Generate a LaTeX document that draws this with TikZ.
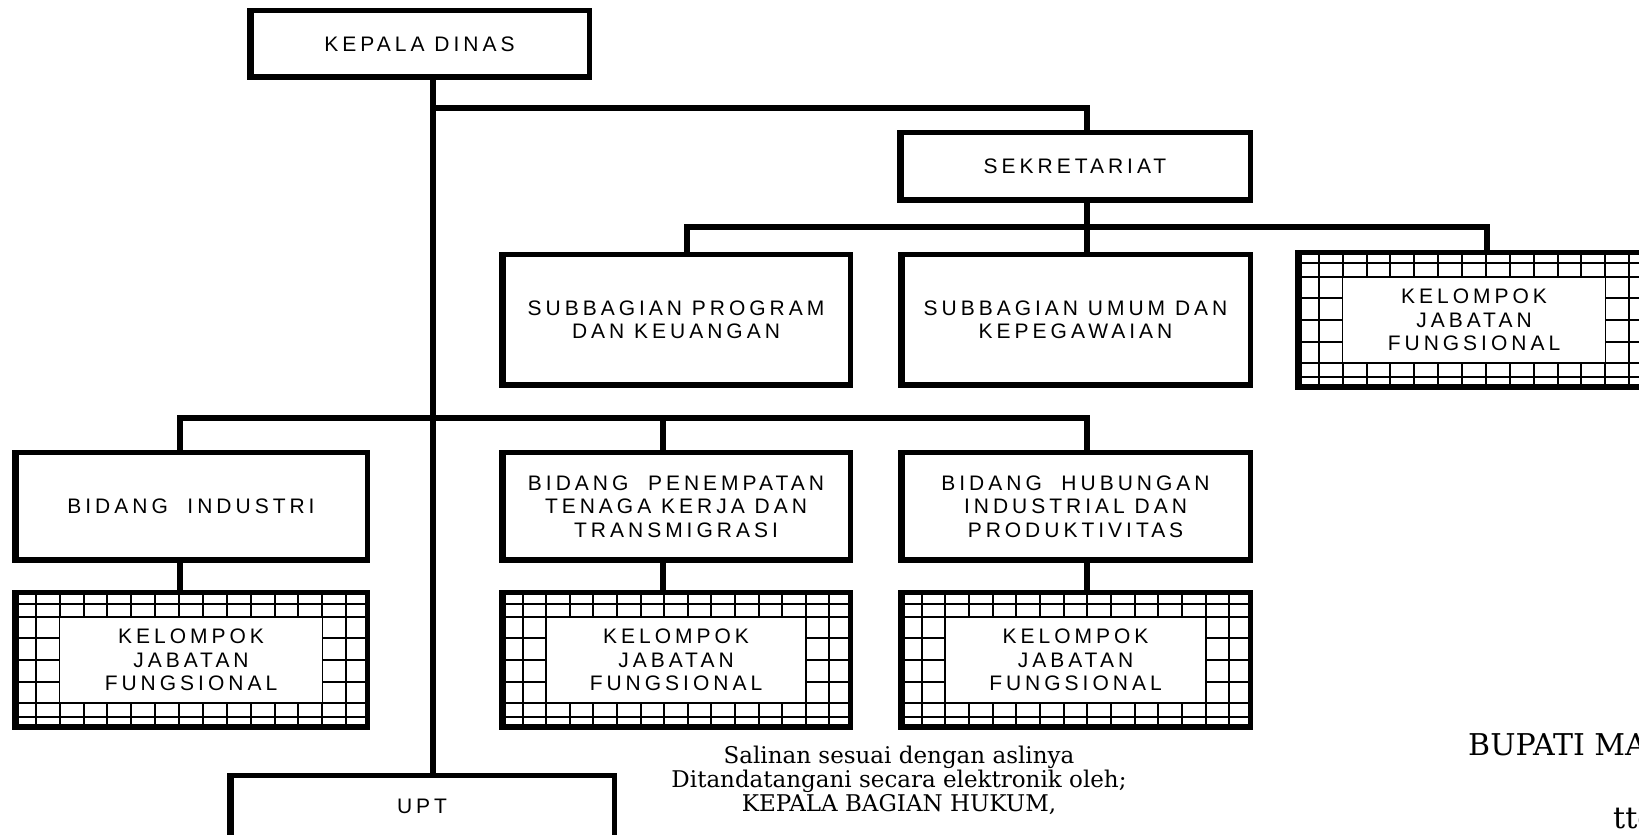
\documentclass[tikz,border=0pt]{standalone}
\usepackage{fontspec}
\newfontfamily\lab[LetterSpace=19]{Liberation Sans}
\newfontfamily\ser{DejaVu Serif}
\newcommand{\kgrid}[4]{%
\begin{scope}[shift={(#1,#2)}]
\foreach \i in {1,...,14} \draw[gridline] ({\i*#3/15},0) -- ({\i*#3/15},#4);
\foreach \j in {0.0964,0.193,0.346,0.5,0.654,0.807,0.904} \draw[gridline] (0,{\j*#4}) -- (#3,{\j*#4});
\draw[gridline, line width=1.2, fill=white] ({2*#3/15},{0.193*#4}) rectangle ({13*#3/15},{0.807*#4});
\end{scope}}
\begin{document}
\begin{tikzpicture}[x=1pt,y=-1pt,
  box/.style={draw, line width=5, fill=white, inner sep=0, outer sep=0, align=center,
    font=\lab\fontsize{21}{23.5}\selectfont},
  kbox/.style={draw, line width=5, inner sep=0, outer sep=0, align=center,
    minimum height=135pt, font=\lab\fontsize{21}{23.5}\selectfont},
  conn/.style={line width=5.5},
  gridline/.style={line width=2},
  shade/.style={line width=2},
  sertext/.style={inner sep=0, anchor=base, font=\ser\fontsize{23}{26}\selectfont},
  bigtext/.style={inner sep=0, anchor=base west, font=\ser\fontsize{30}{34}\selectfont}]
\useasboundingbox (0,0) rectangle (1639,835);
\fill[white] (0,0) rectangle (1639,835);
\clip (0,0) rectangle (1639,835);

% grids of the KELOMPOK JABATAN FUNGSIONAL boxes
\kgrid{12}{590}{358}{140}
\kgrid{499}{590}{354}{140}
\kgrid{898}{590}{355}{140}
\kgrid{1295}{250}{358}{140}

% boxes
\node[box, minimum width=340pt, minimum height=67pt] (kd) at (419.5,44) {KEPALA DINAS};
\node[box, minimum width=351pt, minimum height=68pt] (sek) at (1075,166.5) {SEKRETARIAT};
\node[box, minimum width=349pt, minimum height=131pt] (sp) at (676,320) {SUBBAGIAN PROGRAM\\DAN KEUANGAN};
\node[box, minimum width=350pt, minimum height=131pt] (su) at (1075.5,320) {SUBBAGIAN UMUM DAN\\KEPEGAWAIAN};
\node[box, minimum width=353pt, minimum height=108pt] (bi) at (191,506.5) {BIDANG\ \ INDUSTRI};
\node[box, minimum width=349pt, minimum height=108pt] (bp) at (676,506.5) {BIDANG\ \ PENEMPATAN\\TENAGA KERJA DAN\\TRANSMIGRASI};
\node[box, minimum width=350pt, minimum height=108pt] (bh) at (1075.5,506.5) {BIDANG\ \ HUBUNGAN\\INDUSTRIAL DAN\\PRODUKTIVITAS};
\node[kbox, minimum width=353pt] (kA) at (191,660) {KELOMPOK\\JABATAN\\FUNGSIONAL};
\node[kbox, minimum width=349pt] (kB) at (676,660) {KELOMPOK\\JABATAN\\FUNGSIONAL};
\node[kbox, minimum width=350pt] (kC) at (1075.5,660) {KELOMPOK\\JABATAN\\FUNGSIONAL};
\node[kbox, minimum width=353pt] (kD) at (1474,320) {KELOMPOK\\JABATAN\\FUNGSIONAL};
\node[box, minimum width=385pt, minimum height=82pt] (upt) at (422,816.5) {};
\node[inner sep=0, font=\lab\fontsize{21}{23.5}\selectfont] (uptt) at (422,806) {UPT};

% slightly heavier left and bottom edges
\foreach \n in {kd,sek,sp,su,bi,bp,bh,kA,kB,kC,kD,upt} {
  \draw[shade] ([xshift=3pt]\n.north west) -- ([xshift=3pt]\n.south west);
  \draw[shade] ([yshift=3pt]\n.south west) -- ([yshift=3pt]\n.south east);
}

% junctions
\coordinate (jt) at (433,108);
\coordinate (js) at (1087,108);
\coordinate (h2l) at (687,227);
\coordinate (h2m) at (1087,227);
\coordinate (h2r) at (1487,227);
\coordinate (h3l) at (180,418);
\coordinate (h3m) at (663,418);
\coordinate (h3r) at (1087,418);

% connectors
\draw[conn] (kd.south -| jt) -- (upt.north -| jt);
\draw[conn] (jt) -- (js) -- (js |- sek.north);
\draw[conn] (sek.south -| h2m) -- (h2m);
\draw[conn] (h2l |- sp.north) -- (h2l) -- (h2r) -- (h2r |- kD.north);
\draw[conn] (h2m) -- (h2m |- su.north);
\draw[conn] (h3l |- bi.north) -- (h3l) -- (h3r) -- (h3r |- bh.north);
\draw[conn] (h3m) -- (h3m |- bp.north);
\draw[conn] (bi.south -| h3l) -- (kA.north -| h3l);
\draw[conn] (bp.south -| h3m) -- (kB.north -| h3m);
\draw[conn] (bh.south -| h3r) -- (kC.north -| h3r);

% texts
\node[sertext] (s1) at (899,763) {Salinan sesuai dengan aslinya};
\node[sertext] (s2) at (899,787) {Ditandatangani secara elektronik oleh;};
\node[sertext] (s3) at (899,811) {KEPALA BAGIAN HUKUM,};
\node[bigtext] (bup) at (1468,755) {BUPATI MA};
\node[bigtext] (ttd) at (1613,828) {ttd};
\end{tikzpicture}
\end{document}
